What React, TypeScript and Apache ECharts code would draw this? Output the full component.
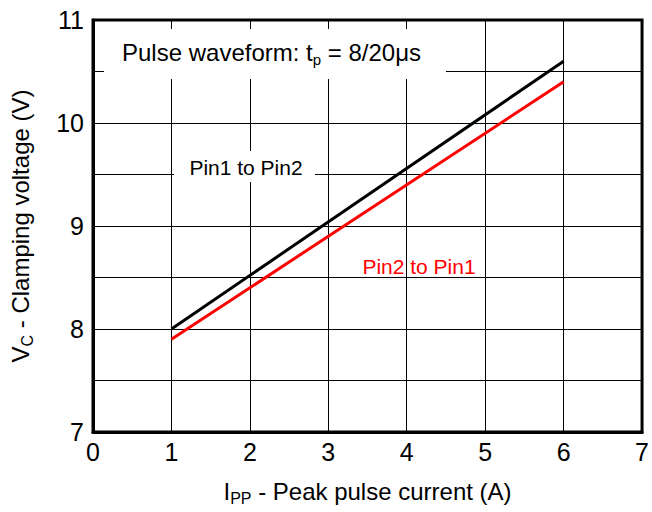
import React, { useEffect, useRef } from "react";
import * as echarts from "echarts";

const currents = [1, 6];
const pin1ToPin2 = [8.0, 10.6];
const pin2ToPin1 = [7.9, 10.4];
const xTicks = [0, 1, 2, 3, 4, 5, 6, 7];
const yTickLabels = [7, 8, 9, 10, 11];

const FONT = "Liberation Sans, Arial, sans-serif";

export default function App() {
  const ref = useRef<HTMLDivElement>(null);
  useEffect(() => {
    if (!ref.current) return;
    const chart = echarts.init(ref.current, null, { renderer: "svg" });
    const option: any = {
      animation: false,
      backgroundColor: "#ffffff",
      textStyle: { fontFamily: FONT },
      grid: {
        left: 93,
        right: 7,
        top: 20,
        bottom: 80,
        show: true,
        borderColor: "#000",
        borderWidth: 3,
        backgroundColor: "transparent",
      },
      xAxis: {
        type: "value",
        min: xTicks[0],
        max: xTicks[xTicks.length - 1],
        interval: 1,
        axisLine: { show: true, onZero: false, lineStyle: { color: "#000", width: 3 } },
        axisTick: { show: false },
        axisLabel: { color: "#000", fontSize: 25, margin: 7, fontFamily: FONT },
        splitLine: { show: true, lineStyle: { color: "#000", width: 1 } },
        name: "{n|I}{s|PP}{n| - Peak pulse current (A)}",
        nameLocation: "middle",
        nameGap: 45,
        nameTextStyle: {
          rich: {
            n: { fontSize: 24, color: "#000", fontFamily: FONT },
            s: { fontSize: 16, color: "#000", fontFamily: FONT, padding: [13, 0, 0, 0] },
          },
        },
      },
      yAxis: {
        type: "value",
        min: 7,
        max: 11,
        interval: 0.5,
        axisLine: { show: true, onZero: false, lineStyle: { color: "#000", width: 3 } },
        axisTick: { show: false },
        axisLabel: {
          color: "#000",
          fontSize: 25,
          margin: 9,
          fontFamily: FONT,
          formatter: (v: number) => (yTickLabels.includes(v) ? String(v) : ""),
        },
        splitLine: { show: true, lineStyle: { color: "#000", width: 1 } },
        name: "{n|V}{s|C}{n| - Clamping voltage (V)}",
        nameLocation: "middle",
        nameGap: 58,
        nameRotate: 90,
        nameTextStyle: {
          rich: {
            n: { fontSize: 24, color: "#000", fontFamily: FONT },
            s: { fontSize: 16, color: "#000", fontFamily: FONT, padding: [13, 0, 0, 0] },
          },
        },
      },
      series: [
        {
          name: "Pin1 to Pin2",
          type: "line",
          data: currents.map((c, i) => [c, pin1ToPin2[i]]),
          showSymbol: false,
          lineStyle: { color: "#000", width: 3 },
          z: 5,
        },
        {
          name: "Pin2 to Pin1",
          type: "line",
          data: currents.map((c, i) => [c, pin2ToPin1[i]]),
          showSymbol: false,
          lineStyle: { color: "#ff0000", width: 3 },
          z: 5,
        },
      ],
      graphic: [
        {
          type: "rect",
          shape: { x: 104, y: 29, width: 342, height: 50 },
          style: { fill: "#fff" },
          z: 10,
        },
        {
          type: "text",
          x: 122,
          y: 52,
          z: 11,
          style: {
            text: "{n|Pulse waveform: t}{s|p}{n| = 8/20μs}",
            verticalAlign: "middle",
            align: "left",
            rich: {
              n: { fontSize: 24, fill: "#000", fontFamily: FONT },
              s: { fontSize: 15, fill: "#000", fontFamily: FONT, padding: [14, 0, 0, 0] },
            },
          },
        },
        {
          type: "rect",
          shape: { x: 174, y: 151, width: 141, height: 31 },
          style: { fill: "#fff" },
          z: 10,
        },
        {
          type: "text",
          x: 246,
          y: 167,
          z: 11,
          style: {
            text: "Pin1 to Pin2",
            fontSize: 21,
            fontFamily: FONT,
            fill: "#000",
            align: "center",
            verticalAlign: "middle",
          },
        },
        {
          type: "text",
          x: 419,
          y: 266,
          z: 11,
          style: {
            text: "Pin2 to Pin1",
            fontSize: 21,
            fontFamily: FONT,
            fill: "#ff0000",
            align: "center",
            verticalAlign: "middle",
          },
        },
      ],
    };
    chart.setOption(option);
    return () => chart.dispose();
  }, []);
  return <div ref={ref} style={{ width: 652, height: 512, position: "absolute", left: 0, top: 0 }} />;
}
